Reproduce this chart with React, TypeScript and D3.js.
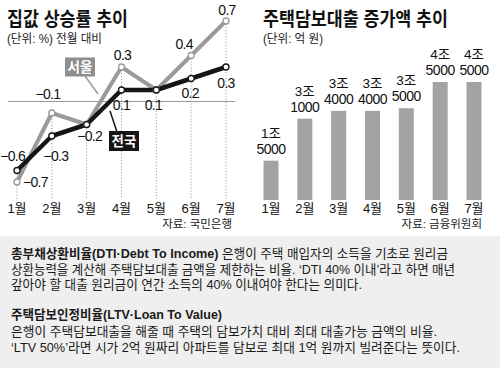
import React from "react";
import * as d3 from "d3";

const months = ["1월", "2월", "3월", "4월", "5월", "6월", "7월"];
const seoulRate = [-0.7, -0.1, -0.2, 0.3, 0.1, 0.4, 0.7];
const nationRate = [-0.6, -0.3, -0.2, 0.1, 0.1, 0.2, 0.3];
const loanIncrease = [15000, 31000, 34000, 34000, 35000, 45000, 45000];

const leftTitle = "집값 상승률 추이";
const leftUnit = "(단위: %) 전월 대비";
const leftSource = "자료: 국민은행";
const rightTitle = "주택담보대출 증가액 추이";
const rightUnit = "(단위: 억 원)";
const rightSource = "자료: 금융위원회";

const noteLines = [
  { bold: "총부채상환비율(DTI·Debt To Income)", text: " 은행이 주택 매입자의 소득을 기초로 원리금" },
  { bold: "", text: "상환능력을 계산해 주택담보대출 금액을 제한하는 비율. ‘DTI 40% 이내’라고 하면 매년" },
  { bold: "", text: "갚아야 할 대출 원리금이 연간 소득의 40% 이내여야 한다는 의미다." },
  { bold: "주택담보인정비율(LTV·Loan To Value)", text: "" },
  { bold: "", text: "은행이 주택담보대출을 해줄 때 주택의 담보가치 대비 최대 대출가능 금액의 비율." },
  { bold: "", text: "‘LTV 50%’라면 시가 2억 원짜리 아파트를 담보로 최대 1억 원까지 빌려준다는 뜻이다." },
];
const noteY = [258, 273.5, 289, 319, 335.5, 352];
const noteLen = [437, 444, 351, 211, 426, 449];

// label placement offsets (layout)
const seoulLabelPos: [number, number, string][] = [
  [6, 5, "start"], [-4, -14, "middle"], [3, 16.5, "middle"], [1, -7, "middle"],
  [-3, 20, "middle"], [-7, -7, "middle"], [1, -6, "middle"],
];
const nationLabelPos: ([number, number, string] | null)[] = [
  [8, -9.5, "end"], [4, 25, "middle"], null, [0, 20, "middle"], null, [-1, 19, "middle"], [0, 21, "middle"],
];

const KR = "'Liberation Sans', 'Noto Sans CJK KR', sans-serif";
const NUM = "'Liberation Sans', 'Noto Sans CJK KR', sans-serif";
const GRAY_LINE = "#9a9a9a";
const BLACK = "#151515";

function fmt(v: number) {
  const s = Math.abs(v).toFixed(1);
  return v < 0 ? "−" + s : s;
}

export default function App() {
  const xL = d3.scalePoint<string>().domain(months).range([17, 226]);
  const yL = d3.scaleLinear().domain([-0.7, 0.7]).range([182, 21]);
  const xR = d3.scalePoint<string>().domain(months).range([271, 474]);
  const yR = d3.scaleLinear().domain([0, 45000]).range([200, 82]);
  const barW = 15;

  const line = d3
    .line<number>()
    .x((_, i) => xL(months[i]) as number)
    .y((d) => yL(d));

  return (
    <svg
      width={500}
      height={368}
      style={{ position: "absolute", left: 0, top: 0, background: "#fff" }}
    >
      {/* LEFT CHART */}
      <text x={7} y={26} fontFamily={KR} fontWeight={700} fontSize={19} fill="#111" textLength={121} lengthAdjust="spacingAndGlyphs">
        {leftTitle}
      </text>
      <text x={7} y={43} fontFamily={KR} fontSize={12.5} fill="#222" textLength={95} lengthAdjust="spacingAndGlyphs">
        {leftUnit}
      </text>

      {/* zero line */}
      <line x1={8} x2={235} y1={yL(0)} y2={yL(0)} stroke="#999" strokeWidth={1} />

      {/* dotted verticals */}
      {months.map((m, i) => (
        <line
          key={"v" + m}
          x1={xL(m)}
          x2={xL(m)}
          y1={yL(Math.max(seoulRate[i], nationRate[i]))}
          y2={199}
          stroke="#888"
          strokeWidth={0.8}
          strokeDasharray="1.2,1.8"
        />
      ))}

      {/* series lines */}
      <path d={line(seoulRate) || ""} fill="none" stroke={GRAY_LINE} strokeWidth={4} strokeLinejoin="round" />
      <path d={line(nationRate) || ""} fill="none" stroke={BLACK} strokeWidth={4.5} strokeLinejoin="round" />

      {seoulRate.map((v, i) => (
        <circle key={"sc" + i} cx={xL(months[i])} cy={yL(v)} r={3} fill="#fff" stroke={GRAY_LINE} strokeWidth={1.3} />
      ))}
      {nationRate.map((v, i) => (
        <circle key={"nc" + i} cx={xL(months[i])} cy={yL(v)} r={3} fill="#fff" stroke={BLACK} strokeWidth={1.3} />
      ))}

      {/* value labels */}
      {seoulRate.map((v, i) => {
        const p = seoulLabelPos[i];
        return (
          <text
            key={"sl" + i}
            x={(xL(months[i]) as number) + p[0]}
            y={yL(v) + p[1]}
            textAnchor={p[2] as any}
            fontFamily={NUM}
            fontSize={14}
            letterSpacing={-0.7}
            fill="#111"
          >
            {fmt(v)}
          </text>
        );
      })}
      {nationRate.map((v, i) => {
        const p = nationLabelPos[i];
        if (!p) return null;
        return (
          <text
            key={"nl" + i}
            x={(xL(months[i]) as number) + p[0]}
            y={yL(v) + p[1]}
            textAnchor={p[2] as any}
            fontFamily={NUM}
            fontSize={14}
            letterSpacing={-0.7}
            fill="#111"
          >
            {fmt(v)}
          </text>
        );
      })}

      {/* series tags */}
      <line x1={85} y1={76} x2={98} y2={94} stroke={GRAY_LINE} strokeWidth={1.5} />
      <rect x={65} y={57.5} width={30} height={19} fill="#8e8e8e" />
      <text x={80} y={72} textAnchor="middle" fontFamily={KR} fontWeight={700} fontSize={13.5} fill="#fff">
        서울
      </text>
      <line x1={110} y1={111} x2={117} y2={132} stroke={BLACK} strokeWidth={1.5} />
      <rect x={109} y={131} width={30} height={20} fill={BLACK} />
      <text x={124} y={146} textAnchor="middle" fontFamily={KR} fontWeight={700} fontSize={13.5} fill="#fff">
        전국
      </text>

      {months.map((m) => (
        <text key={"lm" + m} x={xL(m)} y={213} textAnchor="middle" fontFamily={KR} fontSize={13} fill="#111">
          {m}
        </text>
      ))}
      <text x={232} y={228} textAnchor="end" fontFamily={KR} fontSize={11.5} fill="#222">
        {leftSource}
      </text>

      {/* RIGHT CHART */}
      <text x={263} y={26} fontFamily={KR} fontWeight={700} fontSize={19} fill="#111" textLength={185} lengthAdjust="spacingAndGlyphs">
        {rightTitle}
      </text>
      <text x={263} y={43} fontFamily={KR} fontSize={12.5} fill="#222" textLength={60} lengthAdjust="spacingAndGlyphs">
        {rightUnit}
      </text>

      {loanIncrease.map((v, i) => {
        const cx = xR(months[i]) as number;
        const top = yR(v);
        return (
          <g key={"b" + i}>
            <rect x={cx - barW / 2} y={top} width={barW} height={yR(0) - top} fill="#a3a3a3" />
            <text x={cx} y={top - 23} textAnchor="middle" fontFamily={KR} fontSize={13.5} fill="#111">
              {Math.floor(v / 10000) + "조"}
            </text>
            <text x={cx} y={top - 7} textAnchor="middle" fontFamily={NUM} fontSize={14} letterSpacing={-0.5} fill="#111">
              {String(v % 10000).padStart(4, "0")}
            </text>
          </g>
        );
      })}
      {months.map((m) => (
        <text key={"rm" + m} x={xR(m)} y={213} textAnchor="middle" fontFamily={KR} fontSize={13} fill="#111">
          {m}
        </text>
      ))}
      <text x={482} y={228} textAnchor="end" fontFamily={KR} fontSize={11.5} fill="#222">
        {rightSource}
      </text>

      {/* NOTES BOX */}
      <rect x={0} y={236} width={500} height={132} fill="#efefef" />
      {noteLines.map((l, i) => (
        <text
          key={"n" + i}
          x={11}
          y={noteY[i]}
          fontFamily={KR}
          fontSize={13}
          fill="#1a1a1a"
          textLength={noteLen[i]}
          lengthAdjust="spacingAndGlyphs"
        >
          {l.bold ? <tspan fontWeight={700}>{l.bold}</tspan> : null}
          {l.text ? <tspan>{l.text}</tspan> : null}
        </text>
      ))}
    </svg>
  );
}
